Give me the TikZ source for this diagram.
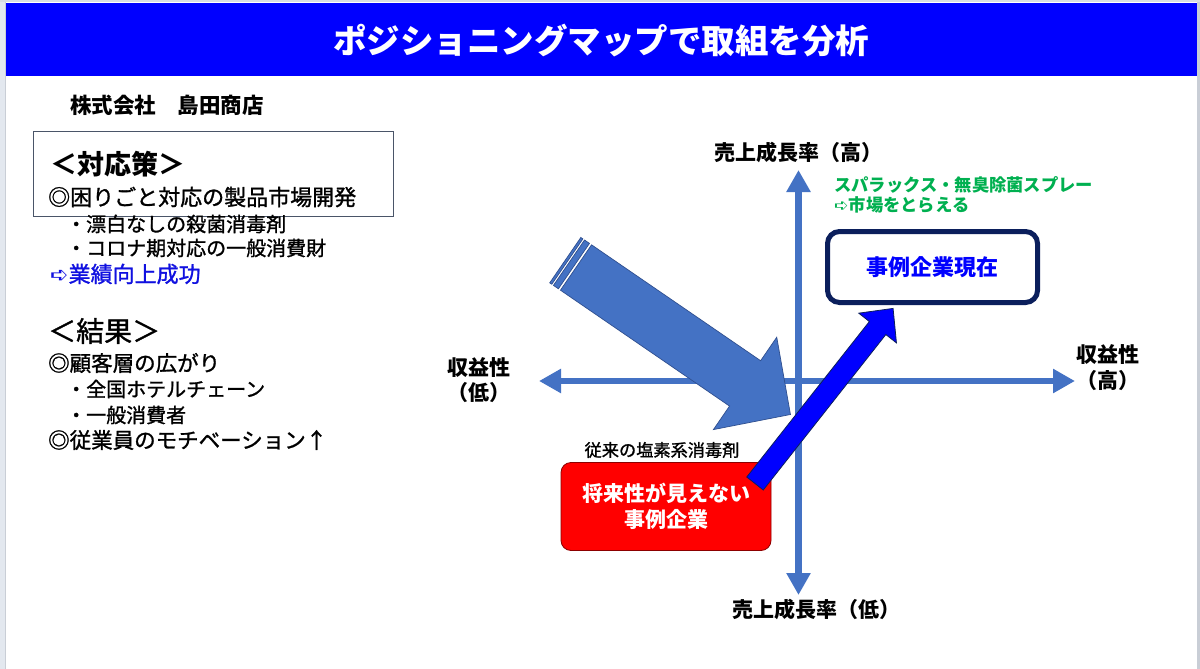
\documentclass[tikz,border=0pt]{standalone}
\usepackage{fontspec}
\setmainfont{Noto Sans CJK JP}
\newfontfamily\jpmed[FakeBold=1.2]{Noto Sans CJK JP}
\newfontfamily\dvfont{DejaVu Sans}
\usetikzlibrary{arrows.meta}
\definecolor{axisblue}{HTML}{4472C4}
\definecolor{axisedge}{HTML}{2F4F8F}
\definecolor{titleblue}{HTML}{0000FF}
\definecolor{pureblue}{HTML}{0000FF}
\definecolor{navy}{HTML}{0B1F5C}
\definecolor{mygreen}{HTML}{00B050}
\definecolor{myred}{HTML}{FF0000}
\definecolor{linkblue}{HTML}{1010E0}
\definecolor{boxgray}{HTML}{4A5568}
\definecolor{stripgray}{HTML}{E3E8EF}
\definecolor{edgegray}{HTML}{C9CED6}
\newcommand{\fsz}[1]{\fontsize{#1pt}{#1pt}\selectfont}
\newcommand{\fszb}[2]{\fontsize{#1pt}{#2pt}\selectfont}
\newcommand{\arw}{{\dvfont ➪}}
\tikzset{
  txt/.style={inner sep=0pt, anchor=west, text=black},
  axisline/.style={draw=axisblue, line width=6.5pt,
    {Triangle[width=23pt,length=22pt]}-{Triangle[width=23pt,length=22pt]}},
  lbl/.style={inner sep=0pt, align=center, text=black},
  bigarrow/.style={fill=axisblue, draw=axisedge, line width=0.7pt, line join=miter},
  bluearrow/.style={fill=pureblue, draw=navy, line width=0.8pt, line join=miter},
  redbox/.style={fill=myred, draw=red!55!black, line width=0.8pt, rounded corners=10pt,
    minimum width=210pt, minimum height=88pt, align=center, text=white},
  nowbox/.style={fill=white, draw=navy, line width=5pt, rounded corners=12pt,
    minimum width=210pt, minimum height=71pt, text=pureblue},
}
\begin{document}
\begin{tikzpicture}[x=1pt,y=-1pt]
\useasboundingbox (0,0) rectangle (1200,669);
% frame
\fill[white] (0,0) rectangle (1200,669);
\fill[stripgray] (0,0) rectangle (4.5,669);
\fill[edgegray] (4.5,0) rectangle (6,669);
\fill[edgegray] (1196.5,0) rectangle (1200,669);
\fill[edgegray!70] (0,0) rectangle (1200,2);
% title bar
\fill[titleblue] (6,3) rectangle (1196.5,76);
\node[inner sep=0pt, text=white, font=\fsz{33.5}\bfseries] (title) at (601,41) {ポジショニングマップで取組を分析};

% left texts
\node[txt, font=\fsz{21.5}\bfseries] (company) at (70,105) {株式会社　島田商店};
\node[draw=boxgray, line width=1pt, minimum width=360pt, minimum height=85pt, inner sep=0pt] (policybox) at (213,173.5) {};
\node[txt, font=\fsz{27}\bfseries] (policy) at (50,164) {＜対応策＞};
\node[txt, font=\jpmed\fsz{22}] (p1) at (48,197) {◎困りごと対応の製品市場開発};
\node[txt, font=\jpmed\fsz{20}] (p2) at (66,224) {・漂白なしの殺菌消毒剤};
\node[txt, font=\jpmed\fsz{20}] (p3) at (66,248) {・コロナ期対応の一般消費財};
\node[txt, font=\jpmed\fsz{22}, text=linkblue] (p4) at (50,274) {\arw 業績向上成功};
\node[txt, font=\jpmed\fsz{28}] (result) at (48,331) {＜結果＞};
\node[txt, font=\jpmed\fsz{21.5}] (r1) at (48,363) {◎顧客層の広がり};
\node[txt, font=\jpmed\fsz{20}] (r2) at (66,389) {・全国ホテルチェーン};
\node[txt, font=\jpmed\fsz{20}] (r3) at (66,415) {・一般消費者};
\node[txt, font=\jpmed\fsz{21.5}] (r4) at (48,440) {◎従業員のモチベーション↑};

% axes
\coordinate (ytop) at (798.5,170);
\coordinate (ybot) at (798.5,595);
\coordinate (xleft) at (539,381);
\coordinate (xright) at (1075,381);
\draw[axisline] (ybot) -- (ytop);
\draw[axisline] (xleft) -- (xright);

% axis labels
\node[lbl, font=\fsz{21}\bfseries] (ytoplbl) at (798,152) {売上成長率（高）};
\node[lbl, font=\fsz{21}\bfseries] (ybotlbl) at (816,609) {売上成長率（低）};
\node[lbl, font=\fszb{21}{25}\bfseries] (xleftlbl) at (479,380) {収益性\\（低）};
\node[lbl, font=\fszb{21}{26}\bfseries] (xrightlbl) at (1108,368) {収益性\\（高）};

% big striped arrow
\begin{scope}[shift={(576,267.5)}, rotate=-34.43]
  \draw[bigarrow] (0,-27.5) -- (205,-27.5) -- (205,-56) -- (260,0) -- (205,56) -- (205,27.5) -- (0,27.5) -- cycle;
  \draw[bigarrow] (-2.5,-27.5) -- (-8.5,-27.5) -- (-8.5,27.5) -- (-2.5,27.5) -- cycle;
  \draw[bigarrow] (-10.5,-27.5) -- (-13,-27.5) -- (-13,27.5) -- (-10.5,27.5) -- cycle;
\end{scope}

% red box
\node[txt, anchor=center, font=\jpmed\fsz{17.2}] (oldlbl) at (662,450) {従来の塩素系消毒剤};
\node[redbox, font=\fszb{21}{26}\bfseries] (oldbox) at (666,506.5) {将来性が見えない\\事例企業};

% blue arrow
\begin{scope}[shift={(755,483.5)}, rotate=51.74]
  \draw[bluearrow] (0,-10.5) -- (198,-10.5) -- (198,-24) -- (223,0) -- (198,24) -- (198,10.5) -- (0,10.5) -- cycle;
\end{scope}

% current box
\node[nowbox, font=\fsz{22}\bfseries] (nowbox) at (932.5,267) {事例企業現在};

% green text
\node[txt, font=\fsz{17.3}\bfseries, text=mygreen] (g1) at (834,185) {スパラックス・無臭除菌スプレー};
\node[txt, font=\fsz{17.3}\bfseries, text=mygreen] (g2) at (834,205) {\arw 市場をとらえる};
\end{tikzpicture}
\end{document}
